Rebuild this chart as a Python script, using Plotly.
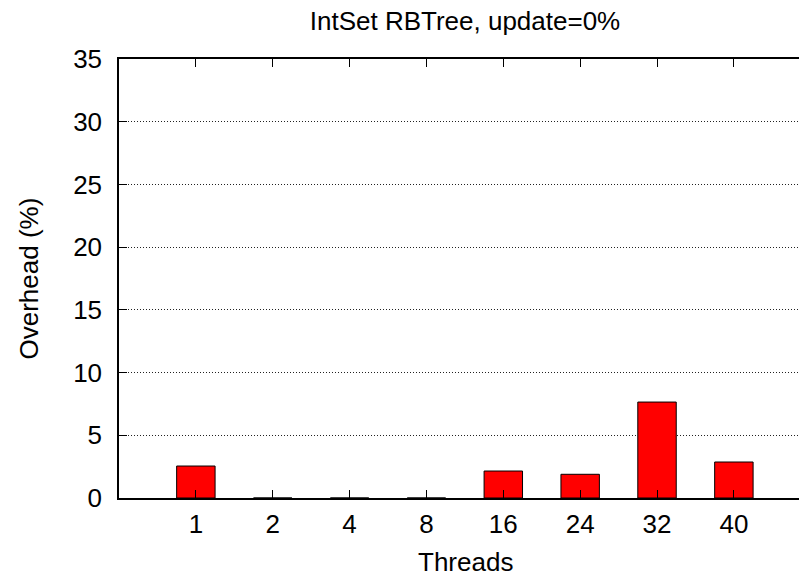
import plotly.graph_objects as go

threads = ["1", "2", "4", "8", "16", "24", "32", "40"]
overhead = [2.55, 0, 0, 0, 2.15, 1.89, 7.65, 2.87]
y_ticks = [0, 5, 10, 15, 20, 25, 30, 35]

title_text = "IntSet RBTree, update=0%"
x_title = "Threads"
y_title = "Overhead (%)"

FONT = "Liberation Sans, Arial, Helvetica, sans-serif"
FS = 26

# page has an 8px body margin; figure occupies window (8..807, 8..576)
W, H = 799, 568
L, T, B = 111, 51, 78
PLOT_W = W - L

pos = list(range(len(threads)))

fig = go.Figure()
fig.add_trace(go.Bar(
    x=pos, y=overhead, width=0.5,
    marker=dict(color="#ff0000", line=dict(color="black", width=1)),
    showlegend=False, hoverinfo="x+y",
))
fig.add_trace(go.Scatter(x=[None], y=[None], yaxis="y2", showlegend=False,
                         mode="markers", hoverinfo="skip"))

fig.update_layout(
    width=W, height=H,
    margin=dict(l=L, r=0, t=T, b=B, pad=0),
    paper_bgcolor="white", plot_bgcolor="white",
    font=dict(family=FONT, size=FS, color="black"),
    title=dict(text=title_text, x=(465 - 8) / W, xanchor="center",
               y=1 - 13 / H, yanchor="middle", yref="container",
               font=dict(family=FONT, size=FS, color="black")),
    xaxis=dict(
        range=[-1, -1 + PLOT_W / 76.86],
        tickmode="array", tickvals=pos, ticktext=threads,
        ticks="inside", ticklen=8, tickwidth=1, tickcolor="black",
        showline=True, linecolor="black", linewidth=1.5,
        mirror="ticks", showgrid=False, zeroline=False,
        ticklabelstandoff=2,
    ),
    yaxis=dict(
        range=[0, 35], tickmode="array", tickvals=y_ticks,
        ticks="inside", ticklen=8, tickwidth=1, tickcolor="black",
        showline=True, linecolor="black", linewidth=1.5,
        showgrid=True, gridcolor="#222222", gridwidth=1, griddash="1px,2px",
        zeroline=False, ticklabelstandoff=10,
    ),
    yaxis2=dict(
        overlaying="y", side="right", matches="y", range=[0, 35],
        tickmode="array", tickvals=y_ticks,
        ticks="inside", ticklen=8, tickwidth=1, tickcolor="black",
        showticklabels=False, showline=False, showgrid=False, zeroline=False,
    ),
    annotations=[
        dict(text=x_title, xref="paper", yref="paper",
             x=(465 - 119) / PLOT_W, y=0, xanchor="center", yanchor="top",
             yshift=-47, showarrow=False, font=dict(family=FONT, size=FS)),
        dict(text=y_title, xref="paper", yref="paper", x=0, y=0.5,
             xanchor="center", yanchor="middle", xshift=-91, textangle=-90,
             showarrow=False, font=dict(family=FONT, size=FS)),
    ],
)

fig.write_html("out.html")
